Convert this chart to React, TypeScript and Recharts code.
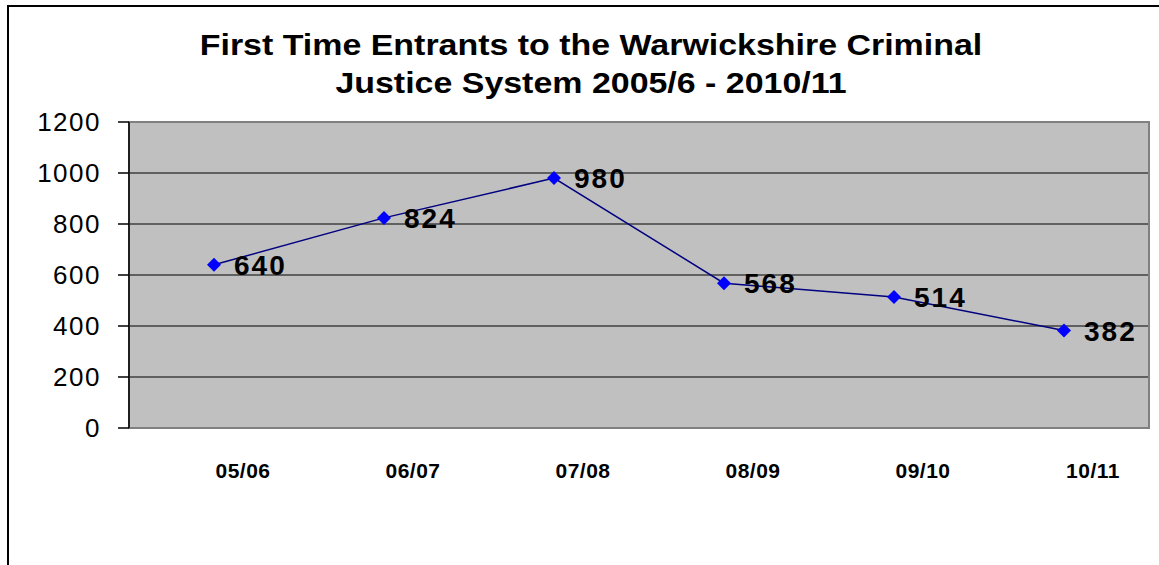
import React from "react"
import {
  LineChart,
  Line,
  XAxis,
  YAxis,
  CartesianGrid,
  ReferenceArea,
  LabelList,
} from "recharts"

const years = ["05/06", "06/07", "07/08", "08/09", "09/10", "10/11"]
const entrants = [640, 824, 980, 568, 514, 382]
const yTicks = [0, 200, 400, 600, 800, 1000, 1200]

const data = years.map((year, i) => ({ year, value: entrants[i] }))

const FONT = "'Liberation Sans', Arial, sans-serif"

const Diamond = (props: any) => {
  const { cx, cy } = props
  if (cx == null || cy == null) return null
  const r = 7
  return (
    <path
      d={`M${cx},${cy - r} L${cx + r},${cy} L${cx},${cy + r} L${cx - r},${cy} Z`}
      fill="#0000FF"
      stroke="none"
    />
  )
}

const App = () => {
  return (
    <div
      style={{
        position: "absolute",
        left: 0,
        top: 0,
        width: 1159,
        height: 565,
        background: "#fff",
        overflow: "hidden",
        fontFamily: FONT,
      }}
    >
      {/* outer chart frame */}
      <div
        style={{
          position: "absolute",
          left: 7,
          top: 5,
          width: 1200,
          height: 700,
          border: "2px solid #000",
          boxSizing: "border-box",
        }}
      />
      <div
        style={{
          position: "absolute",
          left: 0,
          width: 1182,
          top: 26,
          textAlign: "center",
          fontWeight: "bold",
          fontSize: 29,
          lineHeight: "38px",
          transform: "scaleX(1.17)",
          transformOrigin: "591px 0",
        }}
      >
        First Time Entrants to the Warwickshire Criminal
        <br />
        Justice System 2005/6 - 2010/11
      </div>
      <div style={{ position: "absolute", left: 0, top: 0 }}>
        <LineChart
          width={1159}
          height={565}
          data={data}
          margin={{ top: 122, right: 10, bottom: 0, left: 0 }}
        >
          <CartesianGrid
            vertical={false}
            fill="#C0C0C0"
            stroke="#000"
            strokeWidth={1}
            fillOpacity={1}
          />
          <ReferenceArea
            y1={0}
            y2={1200}
            fill="none"
            stroke="#808080"
            strokeWidth={2}
            ifOverflow="visible"
          />
          <XAxis
            dataKey="year"
            scale="band"
            height={137}
            axisLine={false}
            tickLine={false}
            tickSize={0}
            tickMargin={35}
            tick={{
              fill: "#000",
              fontSize: 21,
              fontWeight: "bold",
              fontFamily: FONT,
              letterSpacing: 0.5,
              dx: 29,
            }}
          />
          <YAxis
            domain={[0, 1200]}
            ticks={yTicks}
            width={129}
            interval={0}
            axisLine={{ stroke: "#000", strokeWidth: 1.5 }}
            tickLine={{ stroke: "#000", strokeWidth: 1.5 }}
            tickSize={11}
            tickMargin={17}
            tick={{ fill: "#000", fontSize: 26, fontFamily: FONT, letterSpacing: 1.5 }}
          />
          <Line
            type="linear"
            dataKey="value"
            stroke="#000080"
            strokeWidth={1.5}
            dot={<Diamond />}
            activeDot={false}
            isAnimationActive={false}
          >
            <LabelList
              dataKey="value"
              position="right"
              offset={20}
              fill="#000"
              fontSize={28}
              fontWeight="bold"
              fontFamily={FONT}
              letterSpacing={2}
            />
          </Line>
        </LineChart>
      </div>
    </div>
  )
}

export default App
